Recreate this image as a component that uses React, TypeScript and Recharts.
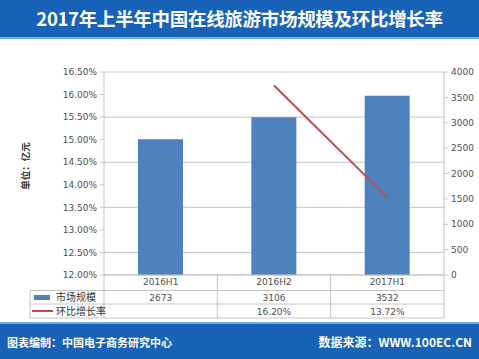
import React from 'react';
import { ComposedChart, Bar, Line, XAxis, YAxis, CartesianGrid } from 'recharts';

const categories = ['2016H1', '2016H2', '2017H1'];
const marketSize = [2673, 3106, 3532];
const growthRate: (number | null)[] = [null, 0.162, 0.1372];
const leftTicks = [0.12, 0.125, 0.13, 0.135, 0.14, 0.145, 0.15, 0.155, 0.16, 0.165];
const rightTicks = [0, 500, 1000, 1500, 2000, 2500, 3000, 3500, 4000];
const title = '2017年上半年中国在线旅游市场规模及环比增长率';
const sizeLabel = '市场规模';
const rateLabel = '环比增长率';
const unitLabel = '单位：亿元';
const footerLeft = '图表编制：中国电子商务研究中心';
const footerRight = '数据来源：WWW.100EC.CN';

const data = categories.map((c, i) => ({ name: c, size: marketSize[i], rate: growthRate[i] }));

const W = 479;
const H = 359;
const PLOT_L = 104;
const PLOT_R = 444;
const PLOT_T = 72;
const PLOT_B = 275;
const BLUE = '#1862b8';
const BAR = '#4F81BD';
const LINE = '#BE4B48';
const GRID = '#c4c4c4';
const TXT = '#505050';
const FONT = '"DejaVu Sans", sans-serif';
const CJK = '"Noto Sans CJK SC", sans-serif';

const pct = (v: number) => (v * 100).toFixed(2) + '%';

export default function App() {
  const colW = (PLOT_R - PLOT_L) / categories.length;
  const rowY = [290.5, 304, 318];
  return (
    <div style={{ position: 'absolute', left: 0, top: 0, width: W, height: H, background: '#fff', overflow: 'hidden' }}>
      <div style={{ position: 'absolute', left: 0, top: 0, width: W, height: 37, background: BLUE, borderBottom: '2px solid #6fb0ea', color: '#fff', fontFamily: CJK, fontWeight: 700, fontSize: 18.5, lineHeight: '37px', textAlign: 'center', letterSpacing: -0.3 }}>
        {title}
      </div>
      <div style={{ position: 'absolute', left: 0, top: 322, width: W, height: 37, background: BLUE, borderTop: '2px solid #6fb0ea', color: '#fff', fontFamily: CJK, fontWeight: 700, fontSize: 11, lineHeight: '36px' }}>
        <span style={{ position: 'absolute', left: 7 }}>{footerLeft}</span>
        <span style={{ position: 'absolute', right: 7, fontSize: 12 }}>{footerRight}</span>
      </div>
      <div style={{ position: 'absolute', left: 0, top: 0 }}>
        <ComposedChart width={W} height={H} data={data} margin={{ top: PLOT_T, right: 0, left: 0, bottom: H - PLOT_B - 16 }}>
          <CartesianGrid yAxisId="left" vertical={false} stroke={GRID} strokeWidth={1} />
          <XAxis dataKey="name" height={16} tickLine={false} tickSize={0} tickMargin={4} axisLine={{ stroke: GRID }} tick={{ fill: TXT, fontSize: 9, fontFamily: FONT }} interval={0} />
          <YAxis yAxisId="left" orientation="left" width={PLOT_L} domain={[0.12, 0.165]} ticks={leftTicks} tickFormatter={pct} axisLine={{ stroke: GRID }} tickLine={{ stroke: GRID }} tickSize={4} tickMargin={3} tick={{ fill: TXT, fontSize: 9, fontFamily: FONT }} allowDataOverflow />
          <YAxis yAxisId="right" orientation="right" width={W - PLOT_R} domain={[0, 4000]} ticks={rightTicks} axisLine={{ stroke: GRID }} tickLine={{ stroke: GRID }} tickSize={4} tickMargin={3} tick={{ fill: TXT, fontSize: 9, fontFamily: FONT }} />
          <Bar yAxisId="right" dataKey="size" fill={BAR} barSize={45} isAnimationActive={false} />
          <Line yAxisId="left" dataKey="rate" stroke={LINE} strokeWidth={2} dot={false} isAnimationActive={false} connectNulls={false} />
        </ComposedChart>
      </div>
      <svg style={{ position: 'absolute', left: 0, top: 0, pointerEvents: 'none' }} width={W} height={H}>
        <g stroke={GRID} strokeWidth={1}>
          {[0, 1, 2, 3].map((k) => (
            <line key={'v' + k} x1={PLOT_L + colW * k} x2={PLOT_L + colW * k} y1={PLOT_B} y2={rowY[2]} />
          ))}
          <line x1={30} x2={30} y1={rowY[0]} y2={rowY[2]} />
          {rowY.map((y, i) => (
            <line key={'h' + i} x1={30} x2={PLOT_R} y1={y} y2={y} />
          ))}
        </g>
        <rect x={34} y={295} width={16} height={5} fill={BAR} />
        <line x1={32} x2={53} y1={311} y2={311} stroke={LINE} strokeWidth={2} />
        <text x={56} y={300.5} fontSize={10} fontFamily={CJK} fill="#333">{sizeLabel}</text>
        <text x={56} y={314.5} fontSize={10} fontFamily={CJK} fill="#333">{rateLabel}</text>
        {categories.map((c, i) => (
          <text key={'s' + c} x={PLOT_L + colW * (i + 0.5)} y={300.5} fontSize={9} fontFamily={FONT} fill={TXT} textAnchor="middle">{marketSize[i]}</text>
        ))}
        {categories.map((c, i) => {
          const v = growthRate[i];
          return v == null ? null : (
            <text key={'r' + c} x={PLOT_L + colW * (i + 0.5)} y={314.5} fontSize={9} fontFamily={FONT} fill={TXT} textAnchor="middle">{pct(v)}</text>
          );
        })}
        <text x={29} y={166} transform="rotate(-90 29 166)" fontSize={9.5} fontWeight={700} fontFamily={CJK} fill="#333" textAnchor="middle">{unitLabel}</text>
      </svg>
    </div>
  );
}
